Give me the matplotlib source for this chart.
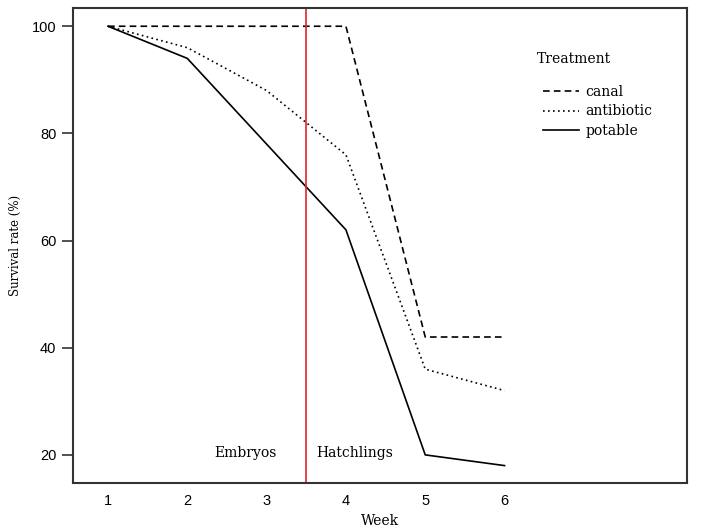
import matplotlib.pyplot as plt

weeks = [1, 2, 3, 4, 5, 6]
canal = [100, 100, 100, 100, 42, 42]
antibiotic = [100, 96, 88, 76, 36, 32]
potable = [100, 94, 78, 62, 20, 18]
y_ticks = [20, 40, 60, 80, 100]

serif = 'DejaVu Serif'
sans = 'Liberation Sans'

fig = plt.figure(figsize=(7.11, 5.28), dpi=100)
ax = fig.add_axes([0.1027, 0.0852, 0.8635, 0.8996])

ax.plot(weeks, canal, color='black', linestyle=(0, (4, 2.5)), lw=1.2, label='canal')
ax.plot(weeks, antibiotic, color='black', linestyle=(0, (1, 2)), lw=1.2, label='antibiotic')
ax.plot(weeks, potable, color='black', linestyle='-', lw=1.2, label='potable')

# stage boundary
ax.axvline(3.5, color='#e0242c', lw=1.2)
ax.text(3.13, 20.4, 'Embryos', ha='right', va='center', family=serif, fontsize=10)
ax.text(3.63, 20.4, 'Hatchlings', ha='left', va='center', family=serif, fontsize=10)

ax.set_xlim(0.559, 8.30)
ax.set_ylim(14.75, 103.4)
ax.set_xticks(weeks)
ax.set_yticks(y_ticks)
ax.tick_params(axis='x', length=0, pad=8, labelsize=10.5)
ax.tick_params(axis='y', length=8, width=1.2, pad=4, labelsize=10.5, color='#333333')
for lab in ax.get_xticklabels() + ax.get_yticklabels():
    lab.set_family(sans)
for s in ax.spines.values():
    s.set_linewidth(1.5)
    s.set_color('#333333')

ax.set_xlabel('Week', family=serif, fontsize=10, labelpad=4)
ax.set_ylabel('Survival rate (%)', family=serif, fontsize=8.5, labelpad=7)

# legend
ax.text(0.755, 0.892, 'Treatment', transform=ax.transAxes, ha='left', va='center',
        family=serif, fontsize=10)
ax.legend(loc='upper left', bbox_to_anchor=(0.745, 0.865), frameon=False,
          handlelength=2.6, handletextpad=0.45, labelspacing=0.42,
          prop={'family': serif, 'size': 10})

fig.savefig('out.png', dpi=100)
